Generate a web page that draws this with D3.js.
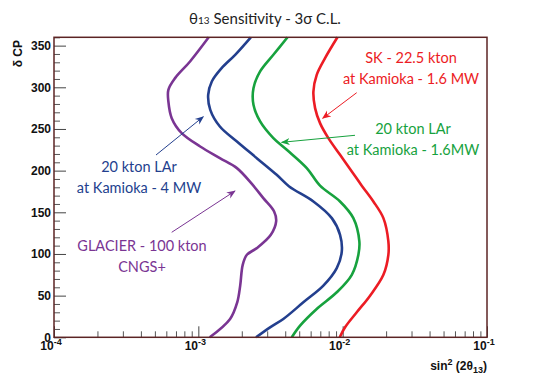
<!DOCTYPE html>
<meta charset="utf-8">
<style>
  body { margin: 0; background: #fff; }
  svg { display: block; }
  .tick-label { font-family: "Liberation Sans", Arial, sans-serif; font-weight: bold; font-size: 12px; fill: #111; }
  .note { font-family: Lato, "Noto Sans", sans-serif; font-size: 14.5px; text-anchor: middle; }
</style>
<body>
<script src="https://d3js.org/d3.v7.min.js"></script>
<script>

// sensitivity curves: delta CP (deg) and sin^2(2 theta13)
const deltaGlacier = [0, 22, 42, 62, 87, 99, 107, 123, 139, 151, 167, 184, 203, 215, 229, 245, 263, 283, 297, 311, 331, 360];
const sinGlacier   = [0.00120, 0.00166, 0.00186, 0.00195, 0.00203, 0.00217, 0.00254, 0.00318, 0.00346, 0.00335, 0.00282, 0.00235,
                      0.00185, 0.00141, 0.00103, 0.000767, 0.000654, 0.000620, 0.000620, 0.000690, 0.000876, 0.00118];

const deltaLAr4 = [0, 12, 22, 42, 62, 83, 103, 123, 143, 163, 181, 195, 215, 235, 253, 273, 291, 307, 323, 339, 360];
const sinLAr4   = [0.00251, 0.00314, 0.00388, 0.00534, 0.00735, 0.00910, 0.00986, 0.00959, 0.00841, 0.00627, 0.00426,
                   0.00349, 0.00254, 0.00185, 0.00141, 0.00121, 0.00117, 0.00124, 0.00145, 0.00180, 0.00231];

const deltaLAr16 = [0, 14, 34, 54, 75, 99, 115, 143, 163, 182, 203, 225, 239, 259, 279, 299, 319, 339, 360];
const sinLAr16   = [0.00444, 0.00507, 0.00661, 0.00910, 0.01157, 0.01285, 0.01305, 0.01186, 0.00959, 0.00697,
                    0.00564, 0.00410, 0.00331, 0.00268, 0.00241, 0.00241, 0.00268, 0.00331, 0.00415];

const deltaSK = [0, 12, 30, 50, 75, 99, 115, 143, 163, 182, 199, 219, 239, 257, 275, 295, 315, 335, 360];
const sinSK   = [0.00955, 0.01039, 0.01252, 0.01548, 0.01915, 0.02073, 0.02073, 0.01915, 0.01632, 0.01356,
                 0.01157, 0.00959, 0.00796, 0.00697, 0.00644, 0.00627, 0.00661, 0.00755, 0.00920];

const xMajor = [1e-4, 1e-3, 1e-2, 1e-1];
const xMajorExp = ["-4", "-3", "-2", "-1"];
const yMajor = [0, 50, 100, 150, 200, 250, 300, 350];

const width = 542, height = 376;
const plot = {left: 54, right: 487, top: 37.3, bottom: 337.3};

const x = d3.scaleLog().domain([1e-4, 1e-1]).range([plot.left, plot.right]);
const y = d3.scaleLinear().domain([0, 360]).range([plot.bottom, plot.top]);

const svg = d3.select("body").append("svg")
    .attr("width", width)
    .attr("height", height);

const defs = svg.append("defs");
function arrowMarker(id, color) {
  defs.append("marker")
      .attr("id", id)
      .attr("viewBox", "0 0 10 10")
      .attr("refX", 9).attr("refY", 5)
      .attr("markerWidth", 9).attr("markerHeight", 9)
      .attr("markerUnits", "userSpaceOnUse")
      .attr("orient", "auto")
    .append("path")
      .attr("d", "M0,1 L10,5 L0,9 L3,5 Z")
      .attr("fill", color);
}

// title
const title = svg.append("text")
    .attr("x", 265).attr("y", 24)
    .attr("text-anchor", "middle")
    .style("font-family", "Lato, 'Noto Sans', sans-serif")
    .style("font-size", "15px")
    .attr("fill", "#222");
title.append("tspan").text("θ");
title.append("tspan").style("font-size", "10px").text("13");
title.append("tspan").text(" Sensitivity  - 3σ C.L.");

// minor ticks
const xMinor = [];
[1e-4, 1e-3, 1e-2].forEach(function(d) { for (let k = 2; k < 10; k++) xMinor.push(d * k); });
const yMinor = d3.range(0, 361, 10).filter(function(d) { return d % 50 !== 0; });

svg.append("g")
    .attr("transform", "translate(0," + plot.bottom + ")")
    .call(d3.axisBottom(x).tickValues(xMinor).tickSize(-6).tickFormat(""))
    .call(function(g) { g.select(".domain").remove(); g.selectAll("line").attr("stroke", "#555"); });
svg.append("g")
    .attr("transform", "translate(0," + plot.bottom + ")")
    .call(d3.axisBottom(x).tickValues(xMajor).tickSize(-11).tickFormat(""))
    .call(function(g) { g.select(".domain").remove(); g.selectAll("line").attr("stroke", "#444"); });

svg.append("g")
    .attr("transform", "translate(" + plot.left + ",0)")
    .call(d3.axisLeft(y).tickValues(yMinor).tickSize(-6).tickFormat(""))
    .call(function(g) { g.select(".domain").remove(); g.selectAll("line").attr("stroke", "#555"); });
svg.append("g")
    .attr("transform", "translate(" + plot.left + ",0)")
    .call(d3.axisLeft(y).tickValues(yMajor).tickSize(-12).tickFormat(""))
    .call(function(g) { g.select(".domain").remove(); g.selectAll("line").attr("stroke", "#444"); });

// y labels
svg.append("g").selectAll("text")
    .data(yMajor).enter().append("text")
    .attr("class", "tick-label")
    .attr("x", 51)
    .attr("y", function(d) { return y(d) + 4.5; })
    .attr("text-anchor", "end")
    .text(function(d) { return d; });

// x labels 10^n
const xl = svg.append("g").selectAll("text")
    .data(xMajor).enter().append("text")
    .attr("class", "tick-label")
    .attr("x", function(d) { return x(d) - 3; })
    .attr("y", 350)
    .attr("text-anchor", "middle");
xl.append("tspan").text("10");
xl.append("tspan").attr("dy", -5).style("font-size", "9px").text(function(d, i) { return xMajorExp[i]; });

// axis titles
const xt = svg.append("text")
    .attr("class", "tick-label")
    .attr("x", plot.right).attr("y", 370)
    .attr("text-anchor", "end");
xt.append("tspan").text("sin");
xt.append("tspan").attr("dy", -5).style("font-size", "9px").text("2");
xt.append("tspan").attr("dy", 5).text(" (2θ");
xt.append("tspan").attr("dy", 3).style("font-size", "9px").text("13");
xt.append("tspan").attr("dy", -3).text(")");

svg.append("text")
    .attr("class", "tick-label")
    .attr("transform", "translate(22,40) rotate(-90)")
    .attr("text-anchor", "end")
    .text("δ CP");

// curves
const line = d3.line()
    .x(function(d) { return x(d[1]); })
    .y(function(d) { return y(d[0]); })
    .curve(d3.curveCatmullRom);

const curves = [
  {delta: deltaGlacier, sin: sinGlacier, color: "#7a3593"},
  {delta: deltaLAr4, sin: sinLAr4, color: "#233f8e"},
  {delta: deltaLAr16, sin: sinLAr16, color: "#17a23e"},
  {delta: deltaSK, sin: sinSK, color: "#ec1c24"}
];
curves.forEach(function(c) {
  svg.append("path")
      .datum(d3.zip(c.delta, c.sin))
      .attr("d", line)
      .attr("fill", "none")
      .attr("stroke", c.color)
      .attr("stroke-width", 2.6);
});

// frame
svg.append("rect")
    .attr("x", plot.left).attr("y", plot.top)
    .attr("width", plot.right - plot.left)
    .attr("height", plot.bottom - plot.top)
    .attr("fill", "none")
    .attr("stroke", "#5c2424")
    .attr("stroke-width", 1.5);

// annotations
const notes = [
  {lines: ["SK - 22.5 kton", "at Kamioka - 1.6 MW"], x: 411, y: 63, color: "#ec1c24", arrow: [356.7, 92.7, 322.7, 118.3]},
  {lines: ["20 kton LAr", "at Kamioka - 1.6MW"], x: 413, y: 134, color: "#17a23e", arrow: [355, 135.3, 281.7, 142.3]},
  {lines: ["20 kton LAr", "at Kamioka - 4 MW"], x: 139, y: 172, color: "#233f8e", arrow: [156, 155, 203.3, 116.7]},
  {lines: ["GLACIER - 100 kton", "CNGS+"], x: 142, y: 251, color: "#7a3593", arrow: [171.7, 232.3, 235, 191]}
];
notes.forEach(function(n, i) {
  arrowMarker("arr" + i, n.color);
  n.lines.forEach(function(t, j) {
    svg.append("text")
        .attr("class", "note")
        .attr("x", n.x).attr("y", n.y + j * 21)
        .attr("fill", n.color)
        .text(t);
  });
  svg.append("line")
      .attr("x1", n.arrow[0]).attr("y1", n.arrow[1])
      .attr("x2", n.arrow[2]).attr("y2", n.arrow[3])
      .attr("stroke", n.color)
      .attr("stroke-width", 1)
      .attr("marker-end", "url(#arr" + i + ")");
});

</script>
</body>
